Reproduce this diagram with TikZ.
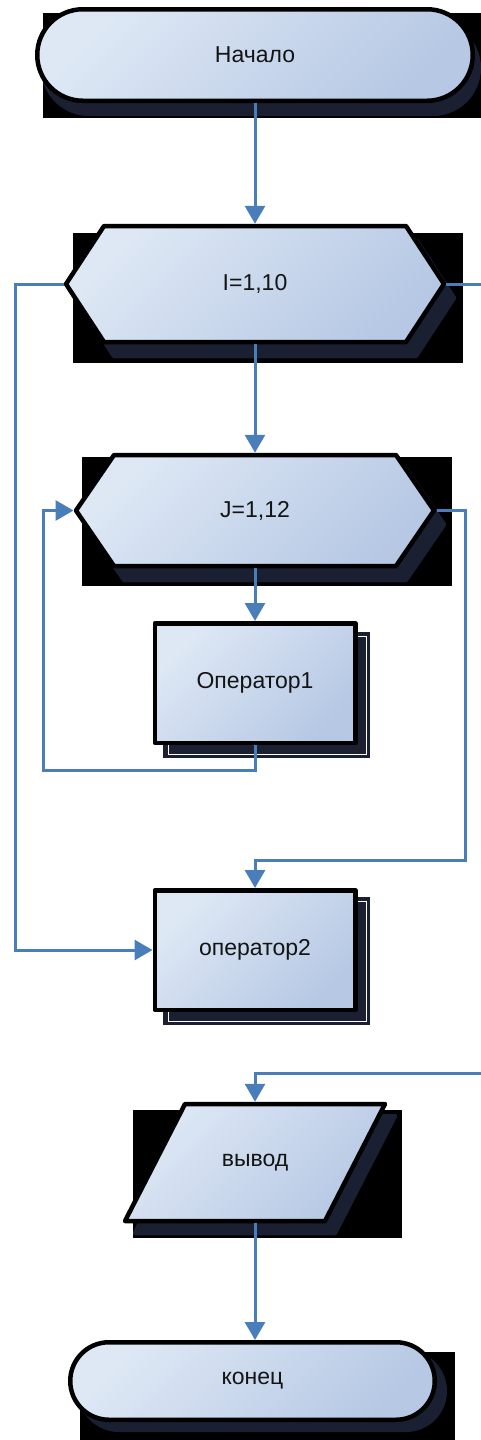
\documentclass[tikz,border=0pt]{standalone}
\usepackage{fontspec}
\setmainfont{Liberation Sans}
\usetikzlibrary{arrows.meta}
\definecolor{lineblue}{RGB}{74,126,187}
\definecolor{filltop}{RGB}{222,232,245}
\definecolor{fillbot}{RGB}{182,200,228}
\definecolor{shadowc}{RGB}{26,31,50}
\definecolor{textc}{RGB}{20,20,20}
\tikzset{
  conn/.style={draw=lineblue, line width=3pt},
  arr/.style={conn, -{Triangle[length=18pt,width=20pt]}},
  shapefill/.style={draw=black, line width=4.5pt, line join=round, top color=filltop, bottom color=fillbot, shading angle=45},
  blackbg/.style={fill=black},
  shad/.style={fill=shadowc, draw=shadowc, line width=4.5pt, line join=round},
  lbl/.style={inner sep=0pt, outer sep=0pt, text=textc, font=\fontsize{23}{27}\selectfont},
  procbox/.style={shapefill, lbl, minimum width=200.5pt, minimum height=119.5pt, outer sep=2.25pt},
  whiteline/.style={draw=white, line width=0.8pt},
}
\begin{document}
\begin{tikzpicture}[x=1pt,y=-1pt]
\useasboundingbox (0,0) rectangle (481,1440);

% ---------- Начало ----------
\fill[blackbg] (43,13) rectangle (481,118);
\fill[fill=shadowc, rounded corners=47.9pt] (41,20) rectangle (481,116);
\draw[shapefill, rounded corners=45.7pt] (37.25,9.25) rectangle (472.75,100.75);
\node[lbl, minimum width=440pt, minimum height=96pt] (start) at (255,55) {Начало};

% ---------- I=1,10 ----------
\fill[blackbg] (73,233) rectangle (463,363);
\draw[shad] (114,240) -- (416,240) -- (454,298) -- (416,356) -- (114,356) -- (76,298) -- cycle;
\draw[shapefill] (104,226) -- (406,226) -- (444,284) -- (406,342) -- (104,342) -- (66,284) -- cycle;
\node[lbl, minimum width=382.5pt, minimum height=120.5pt] (I) at (255,284) {I=1,10};

% ---------- J=1,12 ----------
\fill[blackbg] (82,457) rectangle (452,586);
\draw[shad] (124,469) -- (406,469) -- (444,524.5) -- (406,580) -- (124,580) -- (86,524.5) -- cycle;
\draw[shapefill] (114,455) -- (396,455) -- (434,510.5) -- (396,566) -- (114,566) -- (76,510.5) -- cycle;
\node[lbl, minimum width=363pt, minimum height=115.5pt] (J) at (255,510.5) {J=1,12};

% ---------- Оператор1 ----------
\fill[shadowc] (163,632) rectangle (370,758);
\draw[whiteline] (168,636) rectangle (366.5,754.5);
\node[procbox] (op1) at (255,683) {Оператор1};

% ---------- оператор2 ----------
\fill[shadowc] (163,897) rectangle (370,1025);
\draw[whiteline] (168,901) rectangle (366.5,1021.5);
\node[procbox] (op2) at (255,950) {оператор2};

% ---------- вывод ----------
\fill[blackbg] (133,1110) rectangle (402,1238);
\draw[shad] (195,1116) -- (395,1116) -- (335,1233) -- (135,1233) -- cycle;
\draw[shapefill] (185,1104) -- (385,1104) -- (325,1221) -- (125,1221) -- cycle;
\node[lbl, minimum width=265pt, minimum height=121.5pt] (out) at (255,1162.5) {вывод};

% ---------- конец ----------
\fill[blackbg] (80,1352) rectangle (455,1440);
\fill[fill=shadowc, rounded corners=40.9pt] (78,1350) rectangle (447,1432);
\draw[shapefill, rounded corners=38.7pt] (70.25,1342.25) rectangle (434.75,1419.75);
\node[lbl, minimum width=369pt, minimum height=82pt] (end) at (252.5,1381) {конец};

% ---------- connectors ----------
\coordinate (c1) at (43,770);
\coordinate (c2) at (465,860);
\coordinate (c3) at (15,284);
\coordinate (c4) at (481,284);
\coordinate (c5) at (481,1073);

\draw[arr] (start.south) -- (I.north);
\draw[arr] (I.south) -- (J.north);
\draw[arr] (J.south) -- (op1.north);
\draw[arr] (op1.south) |- (c1) |- (J.west);
\draw[arr] (J.east) -| (c2) -| (op2.north);
\draw[arr] (I.west) -- (c3) |- (op2.west);
\draw[conn] (I.east) -- (c4);
\draw[arr] (c5) -| (out.north);
\draw[arr] (out.south) -- (out.south |- end.north);
\end{tikzpicture}
\end{document}
